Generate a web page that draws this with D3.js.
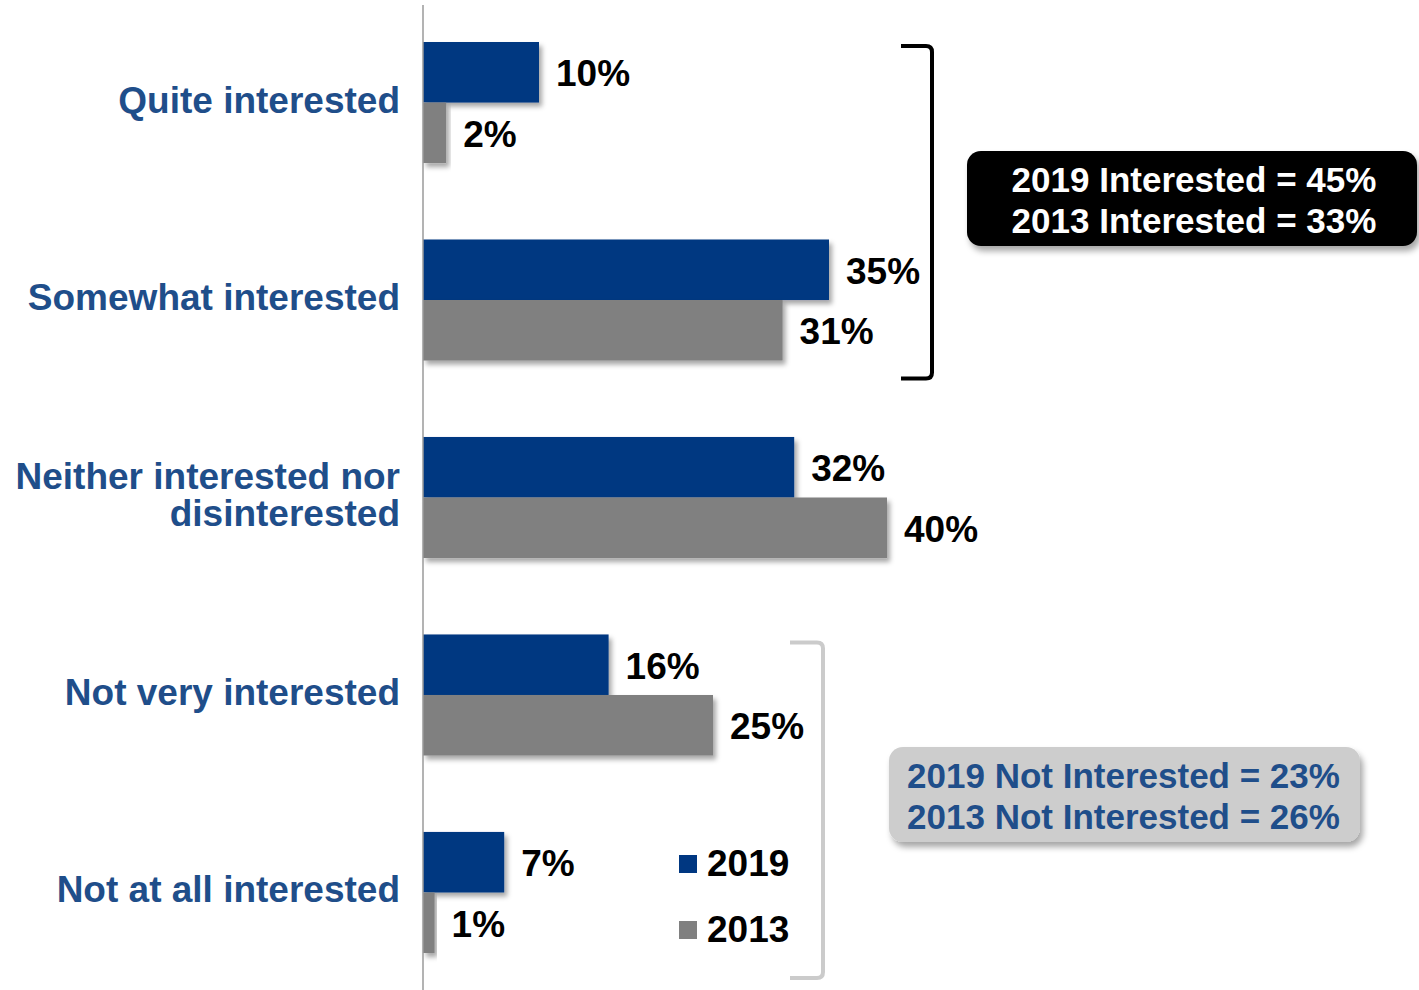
<!DOCTYPE html>
<html>
<head>
<meta charset="utf-8">
<script src="https://cdn.jsdelivr.net/npm/d3@7"></script>
<style>
  html, body { margin: 0; padding: 0; background: #fff; }
  svg { display: block; font-family: "Liberation Sans", Arial, sans-serif; font-weight: bold; }
</style>
</head>
<body>
<svg id="chart" width="1419" height="990"></svg>
<script>
// Interest level, 2019 vs 2013 (percent of respondents)
const categories = [
  ["Quite interested"],
  ["Somewhat interested"],
  ["Neither interested nor", "disinterested"],
  ["Not very interested"],
  ["Not at all interested"]
];
const seriesNames = ["2019", "2013"];
const values2019 = [10, 35, 32, 16, 7];
const values2013 = [2, 31, 40, 25, 1];
const interestedSummary = ["2019 Interested = 45%", "2013 Interested = 33%"];
const notInterestedSummary = ["2019 Not Interested = 23%", "2013 Not Interested = 26%"];

const colors = { "2019": "#003781", "2013": "#808080" };
const labelBlue = "#1f4e8a";

const svg = d3.select("#chart");
const defs = svg.append("defs");

const barShadow = defs.append("filter").attr("id", "barShadow")
  .attr("x", "-10%").attr("y", "-20%").attr("width", "130%").attr("height", "160%");
barShadow.append("feDropShadow").attr("dx", 3).attr("dy", 4).attr("stdDeviation", 2.5)
  .attr("flood-color", "#000").attr("flood-opacity", 0.35);

const boxShadow = defs.append("filter").attr("id", "boxShadow")
  .attr("x", "-10%").attr("y", "-20%").attr("width", "130%").attr("height", "160%");
boxShadow.append("feDropShadow").attr("dx", 3).attr("dy", 5).attr("stdDeviation", 3)
  .attr("flood-color", "#000").attr("flood-opacity", 0.35);

const keys = categories.map((c, i) => i);
const y = d3.scaleBand().domain(keys).range([42, 953]).paddingInner(0.387).paddingOuter(0);
const ySub = d3.scaleBand().domain(seriesNames).range([0, y.bandwidth()]);
const x = d3.scaleLinear().domain([0, 40]).range([423, 887]);

const data = keys.map(i => ({ i, "2019": values2019[i], "2013": values2013[i] }));

// Category groups
const groups = svg.append("g").selectAll("g").data(data).join("g")
  .attr("transform", d => `translate(0,${y(d.i)})`);

groups.selectAll("rect").data(d => seriesNames.map(s => ({ s, v: d[s] }))).join("rect")
  .attr("x", x(0))
  .attr("y", d => ySub(d.s))
  .attr("width", d => x(d.v) - x(0))
  .attr("height", ySub.bandwidth())
  .attr("fill", d => colors[d.s])
  .attr("filter", "url(#barShadow)");

groups.selectAll("text.value").data(d => seriesNames.map(s => ({ s, v: d[s] }))).join("text")
  .attr("class", "value")
  .attr("x", d => x(d.v) + 17)
  .attr("y", d => ySub(d.s) + ySub.bandwidth() / 2 + 14)
  .attr("font-size", 37)
  .attr("fill", "#000")
  .text(d => d.v + "%");

// Category labels
const catLabels = svg.append("g").selectAll("text").data(data).join("text")
  .attr("text-anchor", "end")
  .attr("x", 400)
  .attr("font-size", 37)
  .attr("fill", labelBlue);
catLabels.each(function (d) {
  const lines = categories[d.i];
  const mid = y(d.i) + y.bandwidth() / 2;
  const lh = 37;
  const first = mid + 10 - (lines.length - 1) * lh / 2;
  d3.select(this).selectAll("tspan").data(lines).join("tspan")
    .attr("x", 400)
    .attr("y", (t, k) => first + k * lh)
    .text(t => t);
});

// Vertical axis line
svg.append("line")
  .attr("x1", x(0)).attr("x2", x(0))
  .attr("y1", 5).attr("y2", 990)
  .attr("stroke", "#9a9a9a").attr("stroke-width", 1.5);

// Brackets
function bracket(x0, x1, top, bottom, color) {
  const r = 6;
  svg.append("path")
    .attr("d", `M${x0},${top} L${x1 - r},${top} Q${x1},${top} ${x1},${top + r} L${x1},${bottom - r} Q${x1},${bottom} ${x1 - r},${bottom} L${x0},${bottom}`)
    .attr("fill", "none").attr("stroke", color).attr("stroke-width", 4);
}
bracket(901, 932, y(0) + 4, y(1) + y.bandwidth() + 18, "#000");
bracket(790, 823, y(3) + 8, y(4) + y.bandwidth() + 25, "#cbcbcb");

// Summary boxes
function summaryBox(bx, by, bw, bh, fill, textColor, lines, dx) {
  svg.append("rect")
    .attr("x", bx).attr("y", by).attr("width", bw).attr("height", bh)
    .attr("rx", 14).attr("ry", 14)
    .attr("fill", fill).attr("filter", "url(#boxShadow)");
  svg.append("text")
    .attr("text-anchor", "middle")
    .attr("font-size", 35)
    .attr("fill", textColor)
    .selectAll("tspan").data(lines).join("tspan")
    .attr("x", bx + bw / 2 + dx)
    .attr("y", (t, k) => by + bh / 2 - 7 + k * 41)
    .text(t => t);
}
summaryBox(967, 151, 450, 95, "#000", "#fff", interestedSummary, 2);
summaryBox(889, 747, 471, 95, "#cdcdcd", labelBlue, notInterestedSummary, -1);

// Legend
const legend = svg.append("g").selectAll("g").data(seriesNames).join("g")
  .attr("transform", (d, k) => `translate(679,${855 + k * 66})`);
legend.append("rect").attr("width", 18).attr("height", 18).attr("fill", d => colors[d]);
legend.append("text").attr("x", 28).attr("y", 21).attr("font-size", 37).attr("fill", "#000").text(d => d);
</script>
</body>
</html>
